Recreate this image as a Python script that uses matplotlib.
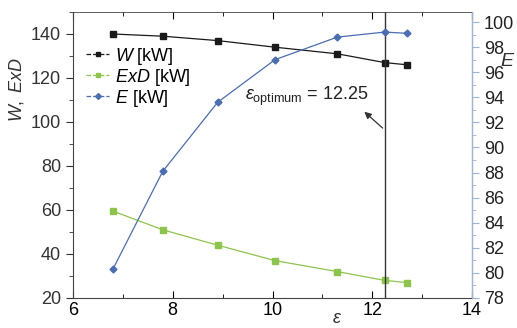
import numpy as np
import matplotlib.pyplot as plt
from matplotlib.ticker import MultipleLocator

plt.rcParams['font.family'] = ['Liberation Sans', 'DejaVu Sans']
plt.rcParams['mathtext.fontset'] = 'custom'
plt.rcParams['mathtext.it'] = 'Liberation Sans:italic'
plt.rcParams['mathtext.rm'] = 'Liberation Sans'

# compression ratio vs. work, exergy destruction and efficiency
eps = [6.8, 7.8, 8.9, 10.05, 11.3, 12.25, 12.7]
W = [140, 139, 137, 134, 131, 127, 126]
ExD = [59.5, 51, 44, 37, 32, 28, 27]
E = [80.3, 88.1, 93.6, 97.0, 98.8, 99.2, 99.1]
eps_opt = 12.25

c_w = '#1a1a1a'
c_exd = '#8cc54a'
c_e = '#4a6db3'

fig = plt.figure(figsize=(5.17, 3.28), dpi=100)
ax = fig.add_axes([73 / 517, 30 / 328, 399 / 517, 286 / 328])
ax2 = ax.twinx()

lw_line = 0.9
l1, = ax.plot(eps, W, color=c_w, marker='s', ms=4, lw=lw_line, label=r'$\it{W}$ [kW]')
l2, = ax.plot(eps, ExD, color=c_exd, marker='s', ms=4, lw=lw_line, label=r'$\it{ExD}$ [kW]')
l3, = ax2.plot(eps, E, color=c_e, marker='D', ms=3.5, lw=lw_line, label=r'$\it{E}$ [kW]')

ax.axvline(eps_opt, color='#333333', lw=1.0)

ax.set_xlim(6, 14)
ax.set_ylim(20, 150)
ax2.set_ylim(78, 100.8)

ax.xaxis.set_major_locator(MultipleLocator(2))
ax.xaxis.set_minor_locator(MultipleLocator(1))
ax.yaxis.set_major_locator(MultipleLocator(20))
ax.yaxis.set_minor_locator(MultipleLocator(10))
ax2.yaxis.set_major_locator(MultipleLocator(2))
ax2.yaxis.set_minor_locator(MultipleLocator(1))

ax.tick_params(axis='x', which='both', direction='in', top=True, labelsize=13, pad=3)
ax.tick_params(axis='x', which='major', length=5)
ax.tick_params(axis='x', which='minor', length=3)
ax.tick_params(axis='y', which='both', direction='out', labelsize=13, colors='#333333')
ax.tick_params(axis='y', which='major', length=5)
ax.tick_params(axis='y', which='minor', length=3)
ax2.tick_params(axis='y', which='both', direction='out', labelsize=13, color='#9db3d9',
                labelcolor='#222222')
ax2.tick_params(axis='y', which='major', length=5)
ax2.tick_params(axis='y', which='minor', length=3)

for side in ['left', 'bottom', 'top']:
    ax.spines[side].set_color('#444444')
ax.spines['top'].set_linewidth(0.6)
ax2.spines['right'].set_color('#9db3d9')
ax2.spines['left'].set_visible(False)
ax2.spines['top'].set_visible(False)
ax2.spines['bottom'].set_visible(False)

ax.set_ylabel(r'$\it{W,\ ExD}$', fontsize=13, color='#333333')
ax.yaxis.set_label_coords(-0.118, 0.73)

fig.text(508 / 517, 1 - 62 / 328, r'$\it{E}$', fontsize=14, color='#333333',
         ha='center', va='center')
fig.text(337 / 517, 1 / 328, r'$\it{\varepsilon}$', fontsize=13, color='#333333',
         ha='center', va='bottom')

ax.annotate('', xy=(11.8, 105.5), xytext=(eps_opt, 96.4),
            arrowprops=dict(arrowstyle='-|>', color='#333333', lw=0.9, mutation_scale=10))
ax.text(9.45, 110, r'$\varepsilon_{\rm optimum}$ = 12.25', fontsize=13, color='#222222',
        ha='left', va='baseline')

leg = ax.legend(handles=[l1, l2, l3], loc='upper left', bbox_to_anchor=(0.005, 0.92),
                frameon=False, fontsize=13, handlelength=1.3, handletextpad=0.3,
                labelspacing=0.0, borderaxespad=0.2)
for h in leg.legend_handles:
    h.set_linestyle('--')
    h.set_markersize(3)

fig.savefig('out.png', dpi=100)
